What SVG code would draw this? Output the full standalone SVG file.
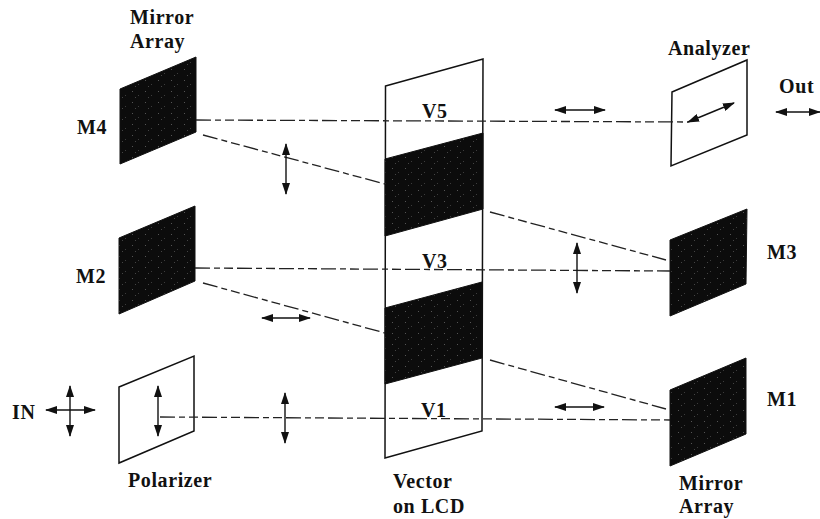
<svg xmlns="http://www.w3.org/2000/svg" width="820" height="519" viewBox="0 0 820 519">
<style>
text{font-family:"Liberation Serif","Times New Roman",serif;font-weight:bold;font-size:20px;letter-spacing:.6px;fill:#111}
.dark{fill:url(#st);stroke:#111;stroke-width:1}
.clear{fill:#fff;stroke:#111;stroke-width:1.5}
.beam{fill:none;stroke:#222;stroke-width:1.3;stroke-dasharray:15 4 6 4 9 4}
.pol{fill:none;stroke:#111;stroke-width:1.4;marker-start:url(#ah);marker-end:url(#ah)}
</style>
<defs>
<pattern id="st" width="13" height="11" patternUnits="userSpaceOnUse">
<rect width="13" height="11" fill="#0c0c0c"/>
<rect x="2" y="3" width="1" height="1" fill="#555"/>
<rect x="8" y="7" width="1" height="1" fill="#3c3c3c"/>
<rect x="5" y="9" width="1" height="1" fill="#444"/>
</pattern>
<marker id="ah" viewBox="0 0 12 8" refX="11" refY="4" markerWidth="12" markerHeight="8" markerUnits="userSpaceOnUse" orient="auto-start-reverse">
<path d="M0 0L12 4L0 8Z" fill="#111"/>
</marker>
</defs>
<g id="lcd">
<polygon class="clear" points="385.500,86 483,59 482,431 385,458"/>
<polygon class="dark" points="385,159 483,133 483,209 385,236"/>
<polygon class="dark" points="385,308 482,282 482,358 385,384"/>
<text x="422" y="118">V5</text>
<text x="422" y="268">V3</text>
<text x="421" y="417">V1</text>
<text x="393" y="488">Vector</text>
<text x="393" y="513">on LCD</text>
</g>
<g id="m4">
<polygon class="dark" points="120,89 196,57 196,132 120,164"/>
<text x="77" y="134">M4</text>
<text x="130" y="24">Mirror</text>
<text x="130" y="48">Array</text>
</g>
<g id="m2">
<polygon class="dark" points="119,238 195,206 195,281 119,314"/>
<text x="76" y="283">M2</text>
</g>
<g id="polarizer">
<polygon class="clear" points="119,387 194,356 194,431 119,463"/>
<text x="128" y="487">Polarizer</text>
</g>
<g id="analyzer">
<polygon class="clear" points="672,92 747,60 747,135 671,166"/>
<text x="668" y="55">Analyzer</text>
</g>
<g id="m3">
<polygon class="dark" points="670,240 747,209 746,284 670,316"/>
<text x="767" y="259">M3</text>
</g>
<g id="m1">
<polygon class="dark" points="670,390 746,358 746,434 670,466"/>
<text x="767" y="406">M1</text>
<text x="679" y="490">Mirror</text>
<text x="679" y="513">Array</text>
</g>
<g id="in"><text x="12" y="419">IN</text></g>
<g id="out"><text x="779" y="93">Out</text></g>
<g id="connectors">
<path class="beam" d="M196 120L688 122"/>
<path class="beam" d="M203 135L385 184"/>
<path class="beam" d="M490 212L666 260"/>
<path class="beam" d="M195 268L670 271"/>
<path class="beam" d="M203 283L385 333"/>
<path class="beam" d="M490 360L666 409"/>
<path class="beam" d="M160 417L670 420"/>
<path class="pol" d="M286 144V194"/>
<path class="pol" d="M262 318H310"/>
<path class="pol" d="M285 393V443"/>
<path class="pol" d="M46 410H95"/>
<path class="pol" d="M70 386V436"/>
<path class="pol" d="M158 386V436"/>
<path class="pol" d="M555 110H605"/>
<path class="pol" d="M776 112H820"/>
<path class="pol" d="M688 122L734 103"/>
<path class="pol" d="M577 243V293"/>
<path class="pol" d="M555 407H604"/>
</g>
</svg>
